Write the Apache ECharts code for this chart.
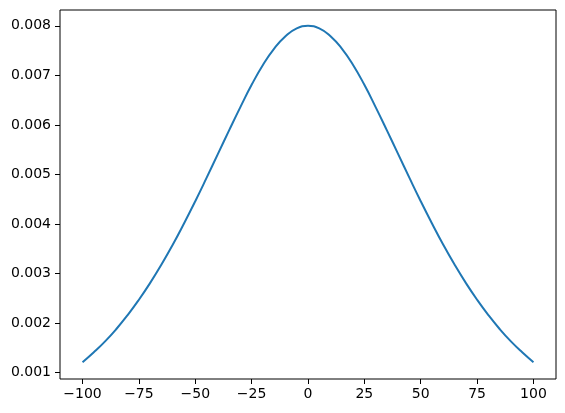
<!DOCTYPE html>
<html>
<head>
<meta charset="utf-8">
<script src="https://cdn.jsdelivr.net/npm/echarts@6/dist/echarts.min.js"></script>
<style>
  html, body { margin: 0; padding: 0; background: #fff; }
  #chart { width: 565px; height: 413px; }
</style>
</head>
<body>
<div id="chart"></div>
<script>
// values
const xValues = [-100, -95, -90, -85, -80, -75, -70, -65, -60, -55, -50, -45, -40, -35, -30, -25, -20, -15, -10, -5,
  0, 5, 10, 15, 20, 25, 30, 35, 40, 45, 50, 55, 60, 65, 70, 75, 80, 85, 90, 95, 100]
const yValues = [0.00121, 0.00141, 0.00163, 0.00188, 0.00216, 0.00247, 0.00281, 0.00318, 0.00358, 0.00401,
  0.00446, 0.00493, 0.00541, 0.00589, 0.00636, 0.00681, 0.00721, 0.00754, 0.00779, 0.00795,
  0.00800, 0.00795, 0.00779, 0.00754, 0.00721, 0.00681, 0.00636, 0.00589, 0.00541, 0.00493,
  0.00446, 0.00401, 0.00358, 0.00318, 0.00281, 0.00247, 0.00216, 0.00188, 0.00163, 0.00141, 0.00121]
const xTicks = [-100, -75, -50, -25, 0, 25, 50, 75, 100]
const yTicks = [0.001, 0.002, 0.003, 0.004, 0.005, 0.006, 0.007, 0.008]

let chart = echarts.init(document.getElementById('chart'))
let font = 'DejaVu Sans'
let option = {
  animation: false,
  grid: {
    left: 60,
    right: 9,
    top: 10,
    bottom: 34,
    show: true,
    borderColor: '#000',
    borderWidth: 1,
  },
  xAxis: {
    type: 'value',
    min: -110,
    max: 110,
    axisLine: { show: false, onZero: false },
    splitLine: { show: false },
    axisTick: {
      show: true,
      length: 5,
      customValues: xTicks,
      lineStyle: { color: '#000', width: 1 }
    },
    axisLabel: {
      customValues: xTicks,
      margin: 8,
      color: '#000',
      fontFamily: font,
      fontSize: 14,
      formatter: v => String(v).replace('-', '\u2212')
    }
  },
  yAxis: {
    type: 'value',
    min: 0.00087,
    max: 0.00832,
    axisLine: { show: false, onZero: false },
    splitLine: { show: false },
    axisTick: {
      show: true,
      length: 5,
      customValues: yTicks,
      lineStyle: { color: '#000', width: 1 }
    },
    axisLabel: {
      customValues: yTicks,
      margin: 9,
      color: '#000',
      fontFamily: font,
      fontSize: 14,
      formatter: v => v.toFixed(3)
    }
  },
  series: [
    {
      type: 'line',
      data: xValues.map((x, i) => [x, yValues[i]]),
      smooth: 0.5,
      showSymbol: false,
      lineStyle: { color: '#1f77b4', width: 2 },
    }
  ]
}
chart.setOption(option)
</script>
</body>
</html>
